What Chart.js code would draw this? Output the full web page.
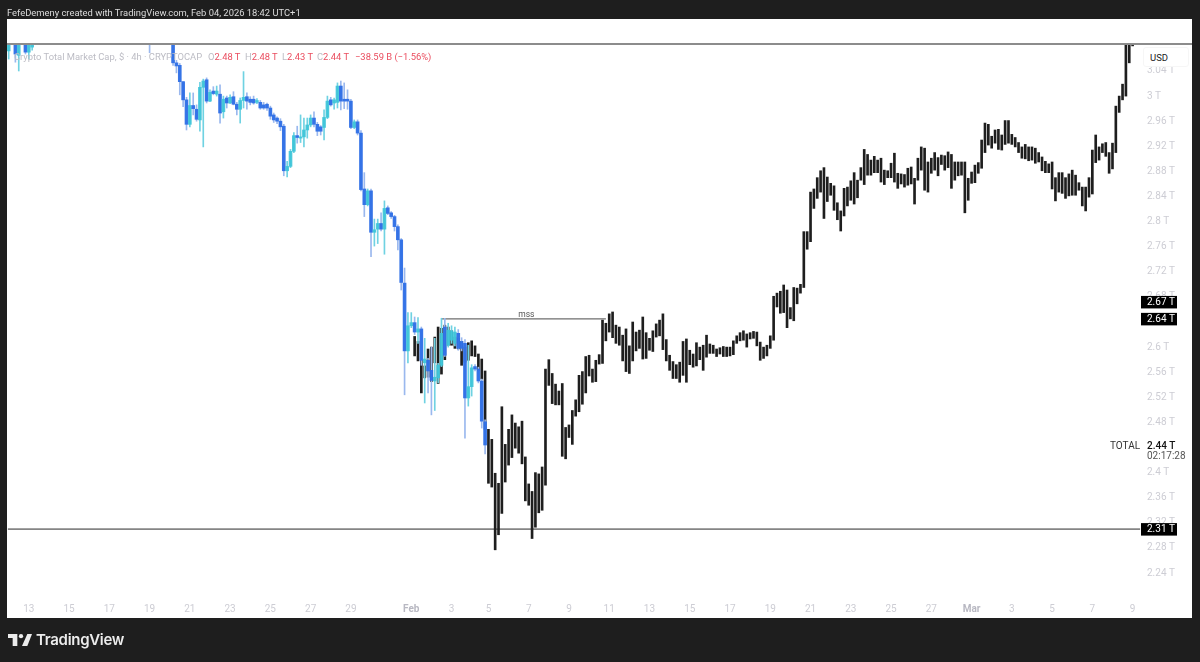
<!DOCTYPE html>
<html lang="en">
<head>
    <meta charset="UTF-8">
    <title>Crypto Total Market Cap</title>
    <script src="https://cdn.jsdelivr.net/npm/chart.js"></script>
    <style>
        html, body {
            margin: 0;
            width: 1200px;
            height: 662px;
            overflow: hidden;
            background: #1e1e1e;
            font-family: Roboto, Inter, sans-serif;
        }
        #panel { position: absolute; left: 7px; top: 19px; width: 1185px; height: 599px; background: #fff; }
        #chart { position: absolute; left: 0; top: 0; }
        #topLine { position: absolute; left: 7px; top: 43px; width: 1185px; height: 2px; background: #8c8c8c; }
        .txt { position: absolute; white-space: nowrap; line-height: 12px; }
        #header { left: 7px; top: 7px; font-size: 9.4px; color: #dcdcdc; }
        .legend { top: 51px; font-size: 9.4px; color: #bcbcc4; }
        .red { color: #ea4d5f; }
        #usd {
            position: absolute; left: 1143px; top: 47px; width: 46px; height: 20px;
            background: #fff; border: 1px solid #f6f6f6; border-radius: 3px; box-sizing: border-box;
            font-size: 9.5px; color: #222; line-height: 19px; padding-left: 6px;
        }
        #brand { left: 36px; top: 630px; font-family: Inter, sans-serif; font-size: 15px; line-height: 20px; font-weight: 600; color: #ececec; letter-spacing: -0.3px; }
        #logo { position: absolute; left: 8px; top: 634px; }
    </style>
</head>
<body>
    <div id="panel"></div>
    <canvas id="chart" width="1200" height="662"></canvas>
    <div id="topLine"></div>
    <div class="txt" id="header">FefeDemeny created with TradingView.com, Feb 04, 2026 18:42 UTC+1</div>
    <div class="txt legend" style="left:14px">Crypto Total Market Cap, $ · 4h · CRYPTOCAP</div>
    <div class="txt legend" style="left:208px">O<span class="red">2.48 T</span></div>
    <div class="txt legend" style="left:245px">H<span class="red">2.48 T</span></div>
    <div class="txt legend" style="left:282px">L<span class="red">2.43 T</span></div>
    <div class="txt legend" style="left:317px">C<span class="red">2.44 T</span></div>
    <div class="txt legend red" style="left:355px">−38.59 B (−1.56%)</div>
    <div id="usd">USD</div>
    <svg id="logo" width="24" height="12" viewBox="0 0 36 18"><path fill="#ececec" d="M14 0H0v6h7v12h7V0z"/><circle fill="#ececec" cx="19.5" cy="3.2" r="3.2"/><path fill="#ececec" d="M29 0h7l-7 18h-8z"/></svg>
    <div class="txt" id="brand">TradingView</div>

    <script>
        // Values are in trillions of USD
        const barCount = 338;

        const tickBars = [6, 18, 30, 42, 54, 66, 78, 90, 102, 120, 132, 143, 155, 167, 179, 191, 203, 215, 227, 239, 251, 263, 275, 287, 299, 311, 323, 335];
        const tickLabels = ['13', '15', '17', '19', '21', '23', '25', '27', '29', 'Feb', '3', '5', '7', '9', '11', '13', '15', '17', '19', '21', '23', '25', '27', 'Mar', '3', '5', '7', '9'];
        const monthLabels = ['Feb', 'Mar'];

        const priceTicks = [2.24, 2.28, 2.32, 2.36, 2.4, 2.48, 2.52, 2.56, 2.6, 2.64, 2.68, 2.72, 2.76, 2.8, 2.84, 2.88, 2.92, 2.96, 3, 3.04];
        const priceLabels = ['2.24 T', '2.28 T', '2.32 T', '2.36 T', '2.4 T', '2.48 T', '2.52 T', '2.56 T', '2.6 T', '2.64 T', '2.68 T', '2.72 T', '2.76 T', '2.8 T', '2.84 T', '2.88 T', '2.92 T', '2.96 T', '3 T', '3.04 T'];

        const hidden34 = Array(34).fill(null); // off the top of the visible range
        const hidden6 = Array(6).fill(null);

        const candleOpen = [3.072, null, 3.089, 3.065, null, 3.089, 3.070, 3.078, ...hidden34, 3.095, ...hidden6,
            3.090, 3.053, 3.049, 3.023, 2.994, 2.955, 2.985, 2.979, 2.962, 3.014, 3.026, 2.992, 3.008, 3.003, 3.003, 2.975, 2.997, 2.989, 2.999, 2.987,
            2.979, 2.993, 2.999, 2.995, 2.995, 2.990, 2.990, 2.986, 2.987, 2.981, 2.970, 2.965, 2.960, 2.952, 2.881, 2.888, 2.912, 2.937, 2.933, 2.935,
            2.946, 2.954, 2.965, 2.955, 2.951, 2.950, 2.966, 2.994, 2.989, 2.990, 3.016, 2.995, 2.995, 2.992, 2.950, 2.959, 2.941, 2.852, 2.827, 2.849,
            2.783, 2.788, 2.797, 2.788, 2.822, 2.814, 2.808, 2.792, 2.771, 2.702, 2.594, 2.634, 2.639, 2.624, 2.629, 2.575, 2.579, 2.563, 2.546, 2.551,
            2.571, 2.632, 2.603, 2.611, 2.606, 2.622, 2.609, 2.606, 2.519, 2.537, 2.569, 2.565, 2.546, 2.481];
        const candleHigh = [3.100, null, 3.100, 3.100, null, 3.100, 3.100, 3.100, ...hidden34, 3.100, ...hidden6,
            3.100, 3.057, 3.052, 3.023, 2.998, 3.005, 3.005, 2.986, 3.022, 3.027, 3.029, 3.010, 3.015, 3.016, 3.018, 3.000, 3.000, 3.002, 3.007, 2.990,
            2.997, 3.039, 3.005, 2.999, 3.000, 2.996, 2.993, 2.990, 2.989, 2.984, 2.973, 2.967, 2.964, 2.955, 2.896, 2.915, 2.942, 2.952, 2.970, 2.965,
            2.965, 2.970, 2.975, 2.958, 2.953, 2.978, 3.000, 2.998, 2.997, 3.021, 3.024, 3.021, 3.010, 2.995, 2.962, 2.962, 2.945, 2.878, 2.852, 2.852,
            2.804, 2.804, 2.814, 2.833, 2.825, 2.816, 2.810, 2.795, 2.773, 2.726, 2.655, 2.655, 2.648, 2.647, 2.632, 2.614, 2.582, 2.600, 2.614, 2.574,
            2.646, 2.646, 2.638, 2.634, 2.632, 2.628, 2.615, 2.612, 2.603, 2.572, 2.572, 2.568, 2.549, 2.484];
        const candleLow = [3.059, null, 3.054, 3.040, null, 3.067, 3.059, 3.073, ...hidden34, 3.069, ...hidden6,
            3.049, 3.037, 3.002, 2.983, 2.946, 2.951, 2.970, 2.960, 2.944, 2.919, 2.989, 2.991, 3.002, 3.000, 2.957, 2.965, 2.981, 2.988, 2.986, 2.970,
            2.957, 2.981, 2.979, 2.986, 2.987, 2.988, 2.979, 2.979, 2.977, 2.963, 2.958, 2.956, 2.945, 2.873, 2.871, 2.886, 2.910, 2.925, 2.926, 2.919,
            2.933, 2.951, 2.951, 2.937, 2.938, 2.930, 2.964, 2.984, 2.979, 2.981, 2.978, 2.980, 2.979, 2.948, 2.948, 2.938, 2.849, 2.808, 2.825, 2.744,
            2.761, 2.765, 2.785, 2.748, 2.811, 2.805, 2.785, 2.755, 2.691, 2.524, 2.575, 2.631, 2.620, 2.606, 2.571, 2.511, 2.527, 2.492, 2.499, 2.543,
            2.569, 2.585, 2.600, 2.606, 2.602, 2.595, 2.594, 2.455, 2.506, 2.522, 2.562, 2.543, 2.471, 2.430];
        const candleClose = [3.089, null, 3.067, 3.089, null, 3.070, 3.089, 3.089, ...hidden34, 3.090, ...hidden6,
            3.053, 3.048, 3.023, 2.994, 2.955, 2.985, 2.980, 2.963, 3.014, 3.024, 2.992, 3.006, 3.004, 3.008, 2.973, 2.995, 2.989, 2.998, 2.987, 2.979,
            2.993, 2.998, 2.992, 2.990, 2.989, 2.993, 2.981, 2.981, 2.981, 2.968, 2.962, 2.960, 2.951, 2.881, 2.888, 2.912, 2.937, 2.934, 2.935, 2.946,
            2.954, 2.965, 2.955, 2.944, 2.944, 2.966, 2.992, 2.986, 2.994, 3.016, 2.992, 2.992, 2.992, 2.950, 2.959, 2.941, 2.851, 2.827, 2.849, 2.783,
            2.787, 2.797, 2.788, 2.821, 2.813, 2.808, 2.792, 2.771, 2.703, 2.594, 2.634, 2.639, 2.624, 2.629, 2.579, 2.581, 2.562, 2.547, 2.552, 2.571,
            2.622, 2.587, 2.627, 2.626, 2.624, 2.598, 2.598, 2.519, 2.537, 2.567, 2.565, 2.546, 2.482, 2.444];

        // Black bars start at bar 121 and run to the right edge
        const blackStart = 121;
        const blackHigh = [2.617, 2.609, 2.579, 2.570, 2.597, 2.600, 2.616, 2.632, 2.630, 2.635, 2.632, 2.626, 2.616, 2.614, 2.609, 2.600, 2.607, 2.610, 2.602, 2.589,
            2.581, 2.562, 2.469, 2.453, 2.399, 2.383, 2.505, 2.445, 2.469, 2.492, 2.479, 2.473, 2.482, 2.425, 2.382, 2.370, 2.400, 2.398, 2.409, 2.565,
            2.580, 2.558, 2.541, 2.530, 2.542, 2.472, 2.476, 2.499, 2.516, 2.555, 2.561, 2.585, 2.587, 2.565, 2.579, 2.588, 2.643, 2.638, 2.653, 2.656,
            2.635, 2.632, 2.619, 2.629, 2.602, 2.640, 2.624, 2.627, 2.648, 2.623, 2.614, 2.626, 2.637, 2.643, 2.653, 2.612, 2.587, 2.577, 2.572, 2.576,
            2.609, 2.613, 2.595, 2.589, 2.607, 2.600, 2.603, 2.619, 2.605, 2.603, 2.597, 2.599, 2.601, 2.600, 2.600, 2.610, 2.618, 2.623, 2.626, 2.621,
            2.623, 2.625, 2.624, 2.608, 2.600, 2.603, 2.618, 2.681, 2.686, 2.689, 2.699, 2.691, 2.663, 2.695, 2.694, 2.700, 2.784, 2.784, 2.847, 2.852,
            2.870, 2.881, 2.886, 2.871, 2.861, 2.857, 2.830, 2.817, 2.853, 2.855, 2.865, 2.878, 2.866, 2.886, 2.915, 2.907, 2.898, 2.904, 2.898, 2.901,
            2.882, 2.881, 2.893, 2.909, 2.877, 2.876, 2.875, 2.885, 2.887, 2.869, 2.901, 2.919, 2.917, 2.895, 2.901, 2.910, 2.902, 2.906, 2.905, 2.911,
            2.907, 2.895, 2.895, 2.895, 2.895, 2.869, 2.879, 2.890, 2.894, 2.930, 2.957, 2.955, 2.936, 2.946, 2.947, 2.938, 2.961, 2.961, 2.939, 2.934,
            2.926, 2.919, 2.923, 2.919, 2.919, 2.917, 2.910, 2.903, 2.896, 2.892, 2.895, 2.870, 2.878, 2.878, 2.870, 2.876, 2.882, 2.874, 2.862, 2.855,
            2.855, 2.870, 2.914, 2.938, 2.919, 2.924, 2.926, 2.910, 2.925, 2.984, 3.000, 3.019, 3.090, 3.090, 3.090];
        const blackLow = [2.586, 2.578, 2.527, 2.551, 2.552, 2.545, 2.575, 2.542, 2.557, 2.580, 2.603, 2.603, 2.598, 2.597, 2.571, 2.576, 2.579, 2.586, 2.585, 2.563,
            2.549, 2.469, 2.383, 2.377, 2.277, 2.301, 2.335, 2.385, 2.412, 2.424, 2.439, 2.431, 2.414, 2.355, 2.348, 2.295, 2.313, 2.336, 2.340, 2.380,
            2.539, 2.510, 2.508, 2.508, 2.426, 2.422, 2.456, 2.445, 2.490, 2.497, 2.509, 2.527, 2.554, 2.544, 2.545, 2.573, 2.574, 2.610, 2.624, 2.615,
            2.606, 2.603, 2.578, 2.561, 2.558, 2.578, 2.594, 2.598, 2.581, 2.582, 2.595, 2.593, 2.616, 2.618, 2.596, 2.578, 2.563, 2.550, 2.550, 2.544,
            2.555, 2.544, 2.572, 2.568, 2.570, 2.580, 2.563, 2.584, 2.590, 2.590, 2.585, 2.589, 2.585, 2.585, 2.586, 2.588, 2.606, 2.610, 2.611, 2.600,
            2.613, 2.614, 2.602, 2.579, 2.582, 2.586, 2.598, 2.611, 2.664, 2.654, 2.655, 2.631, 2.645, 2.642, 2.669, 2.686, 2.695, 2.756, 2.768, 2.821,
            2.837, 2.847, 2.805, 2.832, 2.842, 2.818, 2.803, 2.785, 2.809, 2.825, 2.834, 2.828, 2.838, 2.866, 2.859, 2.874, 2.874, 2.878, 2.878, 2.863,
            2.859, 2.870, 2.870, 2.863, 2.853, 2.860, 2.855, 2.858, 2.860, 2.828, 2.866, 2.882, 2.850, 2.847, 2.877, 2.882, 2.873, 2.891, 2.882, 2.886,
            2.853, 2.866, 2.873, 2.874, 2.814, 2.834, 2.861, 2.862, 2.877, 2.885, 2.910, 2.922, 2.917, 2.925, 2.915, 2.914, 2.923, 2.925, 2.923, 2.919,
            2.910, 2.901, 2.900, 2.897, 2.898, 2.893, 2.895, 2.881, 2.878, 2.878, 2.852, 2.833, 2.847, 2.845, 2.837, 2.841, 2.842, 2.842, 2.850, 2.825,
            2.817, 2.839, 2.844, 2.894, 2.898, 2.910, 2.904, 2.877, 2.884, 2.910, 2.974, 2.994, 3.000, 3.053, 3.080];

        const supportLevel = 2.31;
        const mssLevel = 2.645;
        const mssFrom = 129;
        const mssTo = 178;

        const priceTags = [2.672, 2.645, 2.31];
        const priceTagLabels = ['2.67 T', '2.64 T', '2.31 T'];
        const lastPrice = 2.44;

        const categories = Array.from({ length: barCount }, (_, i) => i);
        const FONT = 'Roboto, Inter, sans-serif';

        function isUp(i) {
            return candleClose[i] >= candleOpen[i];
        }

        const candleBodies = candleOpen.map((o, i) => o === null ? null : [o, candleClose[i]]);
        const candleWicks = candleLow.map((l, i) => l === null ? null : [l, candleHigh[i]]);
        const blackBars = categories.map(i => {
            const k = i - blackStart;
            return k >= 0 && k < blackHigh.length ? [blackLow[k], blackHigh[k]] : null;
        });

        const tagsPlugin = {
            id: 'tags',
            afterDraw(chart) {
                const { ctx, chartArea, scales } = chart;
                const y = scales.y;
                ctx.save();
                ctx.textBaseline = 'middle';

                // price tags on the axis
                ctx.font = '10px ' + FONT;
                priceTags.forEach((v, i) => {
                    const py = y.getPixelForValue(v);
                    ctx.fillStyle = '#000';
                    ctx.fillRect(chartArea.right, py - 6, 36, 12.5);
                    ctx.fillStyle = '#fff';
                    ctx.textAlign = 'left';
                    ctx.fillText(priceTagLabels[i], chartArea.right + 6, py + 0.5);
                });

                // last price
                const lastY = y.getPixelForValue(lastPrice) - 1;
                ctx.fillStyle = '#333';
                ctx.fillText('TOTAL', chartArea.right - 31, lastY);
                ctx.fillStyle = '#111';
                ctx.font = '500 10px ' + FONT;
                ctx.fillText('2.44 T', chartArea.right + 6, lastY);
                ctx.fillStyle = '#555';
                ctx.font = '10px ' + FONT;
                ctx.fillText('02:17:28', chartArea.right + 6, lastY + 10);

                // mss label
                ctx.fillStyle = '#555';
                ctx.font = '8.5px ' + FONT;
                ctx.textAlign = 'center';
                ctx.fillText('mss', chart.scales.x.getPixelForValue(Math.round((mssFrom + mssTo) / 2)) + 1, y.getPixelForValue(mssLevel) - 4);
                ctx.restore();
            }
        };

        new Chart(document.getElementById('chart'), {
            type: 'bar',
            data: {
                labels: categories,
                datasets: [
                    {
                        type: 'line',
                        data: categories.map(() => supportLevel),
                        borderColor: '#858585',
                        borderWidth: 1.6,
                        borderCapStyle: 'square',
                        pointRadius: 0,
                        order: 5
                    },
                    {
                        type: 'line',
                        data: categories.map(i => i >= mssFrom && i <= mssTo ? mssLevel : null),
                        borderColor: '#6e6e6e',
                        borderWidth: 1.4,
                        pointRadius: 0,
                        order: 4
                    },
                    {
                        data: blackBars,
                        backgroundColor: '#1e1e1e',
                        barThickness: 2,
                        grouped: false,
                        order: 3
                    },
                    {
                        data: candleWicks,
                        backgroundColor: candleOpen.map((o, i) => isUp(i) ? '#6fd2e2' : '#9ab8ee'),
                        barThickness: 1,
                        grouped: false,
                        order: 2
                    },
                    {
                        data: candleBodies,
                        backgroundColor: candleOpen.map((o, i) => isUp(i) ? 'rgba(60, 196, 216, 0.9)' : 'rgba(46, 111, 230, 0.95)'),
                        barThickness: 3,
                        grouped: false,
                        order: 1
                    }
                ]
            },
            options: {
                responsive: false,
                animation: false,
                layout: { padding: { left: 7, right: 8, top: 44, bottom: 44 } },
                plugins: { legend: { display: false }, tooltip: { enabled: false } },
                scales: {
                    x: {
                        grid: { display: false, drawTicks: false },
                        border: { display: false },
                        afterBuildTicks(scale) {
                            scale.ticks = tickBars.map(value => ({ value }));
                        },
                        afterFit(scale) {
                            scale.height = 23;
                        },
                        ticks: {
                            autoSkip: false,
                            maxRotation: 0,
                            padding: 8,
                            callback: (value, index) => tickLabels[index],
                            color: c => monthLabels.includes(c.tick.label) ? '#b8b8c2' : '#cdcdd4',
                            font: c => ({ family: FONT, size: 10, weight: monthLabels.includes(c.tick.label) ? '700' : '400' })
                        }
                    },
                    y: {
                        position: 'right',
                        min: 2.205,
                        max: 3.083,
                        grid: { display: false, drawTicks: false },
                        border: { display: false },
                        afterBuildTicks(scale) {
                            scale.ticks = priceTicks.map(value => ({ value }));
                        },
                        afterFit(scale) {
                            scale.width = 51;
                        },
                        ticks: {
                            autoSkip: false,
                            padding: 6,
                            crossAlign: 'near',
                            callback: (value, index) => priceLabels[index],
                            color: '#cdcdd4',
                            font: { family: FONT, size: 10 }
                        }
                    }
                }
            },
            plugins: [tagsPlugin]
        });
    </script>
</body>
</html>
